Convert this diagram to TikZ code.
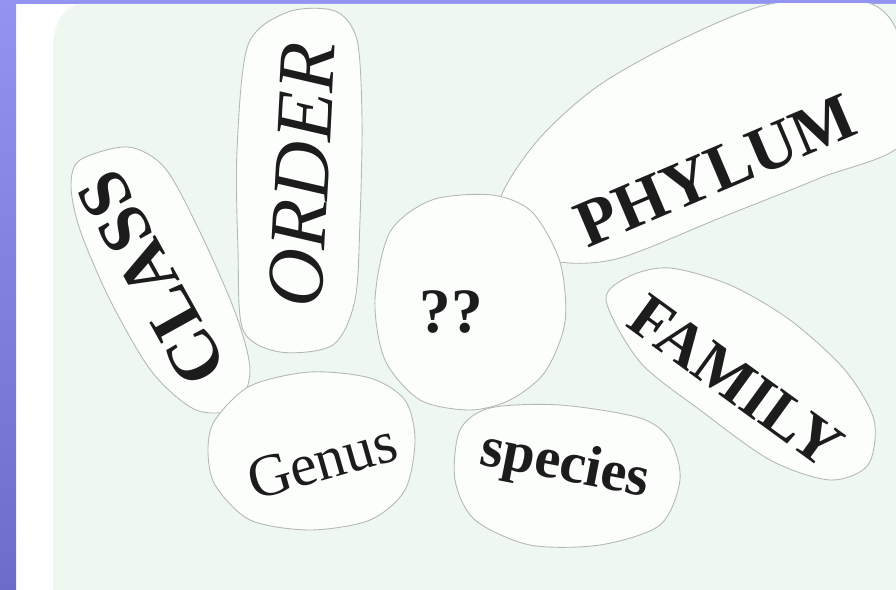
\documentclass[tikz,border=0pt]{standalone}
\usepackage{fontspec}
\setmainfont{Liberation Serif}
\definecolor{frame}{HTML}{9393F1}
\definecolor{framelow}{HTML}{6C6CCB}
\definecolor{paper}{HTML}{EFF7F1}
\definecolor{cutout}{HTML}{FCFEFC}
\definecolor{cutedge}{HTML}{B4B8B4}
\definecolor{ink}{HTML}{1C1C1C}
\begin{document}
\begin{tikzpicture}[x=0.02cm, y=-0.02cm,
    blob/.style={fill=cutout, draw=cutedge, line width=0.5pt},
    word/.style={text=ink, inner sep=0pt, font=\bfseries\fontsize{#1}{#1}\selectfont},
    word/.default=36]

    % Rahmen
    \useasboundingbox (0,0) rectangle (896,590);
    \fill[white] (0,0) rectangle (896,590);
    \shade[top color=frame, bottom color=framelow] (0,0) rectangle (16,590);
    \fill[frame] (0,0) rectangle (896,4);

    % Papier
    \fill[paper] (53,590) -- (53,42) .. controls (56,20) and (64,8) .. (78,4)
        -- (896,4) -- (896,590) -- cycle;

    \begin{scope}
    \clip (53,4) rectangle (896,590);
    % Ausschnitte
    \draw[blob] plot[smooth cycle] coordinates {(80,160) (128,147) (165,168) (200,232)
        (235,312) (250,370) (236,408) (196,410) (152,372) (110,300) (80,230) (71,186)};
    \draw[blob] plot[smooth cycle] coordinates {(248,45) (288,12) (335,11) (357,40)
        (362,120) (360,220) (355,300) (333,345) (280,352) (243,330) (238,250) (237,150)};
    \draw[blob] plot[smooth cycle] coordinates {(500,200) (538,140) (598,86) (680,40)
        (770,4) (866,2) (900,40) (905,140) (820,178) (720,218) (620,258) (560,262) (515,242)};
    \draw[blob] plot[smooth cycle] coordinates {(390,232) (432,200) (492,195) (532,212)
        (560,262) (565,322) (545,372) (510,400) (470,410) (420,400) (385,360) (375,300)};
    \draw[blob] plot[smooth cycle] coordinates {(606,300) (630,276) (670,268) (730,285)
        (790,320) (845,370) (874,420) (868,465) (830,480) (770,460) (700,410) (640,362)};
    \draw[blob] plot[smooth cycle] coordinates {(215,420) (250,386) (310,372) (370,378)
        (405,400) (415,440) (405,490) (370,520) (310,530) (250,520) (215,485) (208,450)};
    \draw[blob] plot[smooth cycle] coordinates {(460,430) (490,408) (560,405) (640,418)
        (670,440) (680,480) (660,525) (600,545) (530,545) (475,520) (455,480)};
    \end{scope}

    % Woerter
    \node[word=41, rotate=119] (class) at (152,278) {CLASS};
    \node[word=46, rotate=87, font=\itshape\fontsize{46}{46}\selectfont] (order) at (302,175) {ORDER};
    \node[word=38, rotate=23] (phylum) at (716,171) {PHYLUM};
    \node[word=36] (unknown) at (451,312) {??};
    \node[word=36, rotate=-36] (family) at (736,381) {FAMILY};
    \node[word=34, rotate=16, font=\mdseries\fontsize{34}{34}\selectfont] (genus) at (322,461) {Genus};
    \node[word=33, rotate=-11] (species) at (565,467) {species};

\end{tikzpicture}
\end{document}
